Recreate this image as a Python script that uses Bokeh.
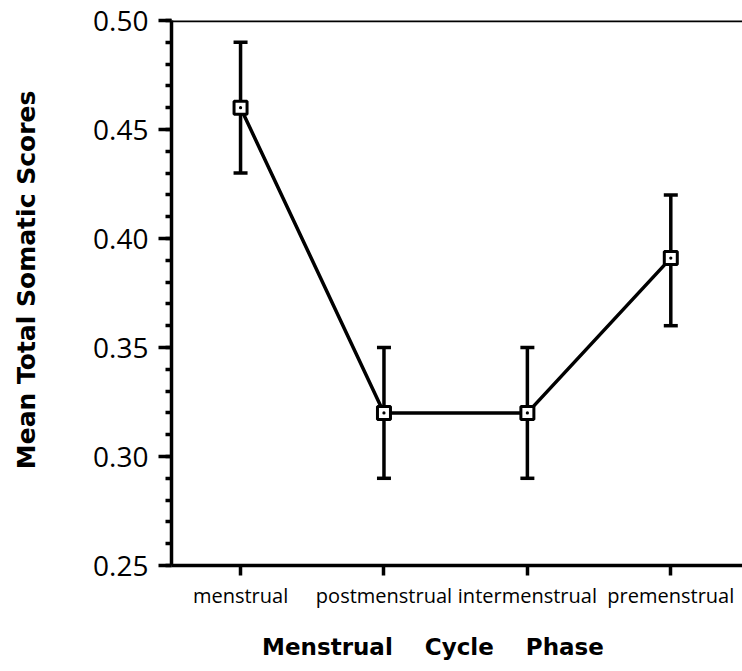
from bokeh.plotting import figure
from bokeh.models import (Range1d, FixedTicker, SingleIntervalTicker, PrintfTickFormatter,
                          Whisker, TeeHead, ColumnDataSource, Span)
from bokeh.embed import file_html
from bokeh.resources import INLINE

phases = ["menstrual", "postmenstrual", "intermenstrual", "premenstrual"]
means = [0.460, 0.320, 0.320, 0.391]
upper = [0.490, 0.350, 0.350, 0.420]
lower = [0.430, 0.290, 0.290, 0.360]

xs = list(range(1, len(phases) + 1))
src = ColumnDataSource(dict(x=xs, y=means, upper=upper, lower=lower))

p = figure(width=742, height=671, output_backend="svg", toolbar_location=None,
           x_range=Range1d(0.5185, 4.50), y_range=Range1d(0.25, 0.50),
           min_border_left=171, min_border_top=20, min_border_right=0, min_border_bottom=106)
p.outline_line_color = None
p.grid.visible = False
p.background_fill_color = "white"
p.border_fill_color = "white"

LW = 3.5

# axes
p.xaxis.ticker = FixedTicker(ticks=xs, minor_ticks=[])
p.xaxis.major_label_overrides = {x: ph for x, ph in zip(xs, phases)}
p.xaxis.axis_line_width = LW
p.xaxis.major_tick_line_width = LW
p.xaxis.major_tick_out = 10
p.xaxis.major_tick_in = 0
p.xaxis.major_label_text_font = "Open Sans"
p.xaxis.major_label_text_font_size = "20px"
p.xaxis.major_label_text_color = "black"
p.xaxis.major_label_standoff = 6
p.xaxis.axis_label = ("Menstrual\u00a0\u00a0\u00a0\u00a0Cycle\u00a0\u00a0\u00a0\u00a0Phase"
                      "\u00a0\u00a0\u00a0\u00a0\u00a0\u00a0")
p.xaxis.axis_label_text_font = "DejaVu Sans"
p.xaxis.axis_label_text_font_style = "bold"
p.xaxis.axis_label_text_font_size = "23px"
p.xaxis.axis_label_text_color = "black"
p.xaxis.axis_label_standoff = 22

p.yaxis.ticker = SingleIntervalTicker(interval=0.05, num_minor_ticks=5)
p.yaxis.formatter = PrintfTickFormatter(format="%.2f")
p.yaxis.axis_line_width = LW
p.yaxis.major_tick_line_width = LW
p.yaxis.minor_tick_line_width = LW
p.yaxis.major_tick_out = 13
p.yaxis.major_tick_in = 0
p.yaxis.minor_tick_out = 6
p.yaxis.minor_tick_in = 0
p.yaxis.major_label_text_font = "Open Sans"
p.yaxis.major_label_text_font_size = "28px"
p.yaxis.major_label_text_color = "black"
p.yaxis.major_label_standoff = 10
p.yaxis.axis_label = "\u00a0\u00a0\u00a0Mean Total Somatic Scores"
p.yaxis.axis_label_text_font = "DejaVu Sans"
p.yaxis.axis_label_text_font_style = "bold"
p.yaxis.axis_label_text_font_size = "25px"
p.yaxis.axis_label_text_color = "black"
p.yaxis.axis_label_standoff = 49

# top border line
p.add_layout(Span(location=0.50, dimension="width", line_color="black", line_width=LW))

# error bars
w = Whisker(base="x", upper="upper", lower="lower", source=src,
            line_color="black", line_width=LW,
            upper_head=TeeHead(size=14, line_width=LW, line_color="black"),
            lower_head=TeeHead(size=14, line_width=LW, line_color="black"))
p.add_layout(w)

p.line("x", "y", source=src, line_color="black", line_width=LW)
p.scatter("x", "y", source=src, marker="square_dot", size=13, fill_color="white",
          line_color="black", line_width=3)

open("out.html", "w").write(file_html(p, INLINE))
